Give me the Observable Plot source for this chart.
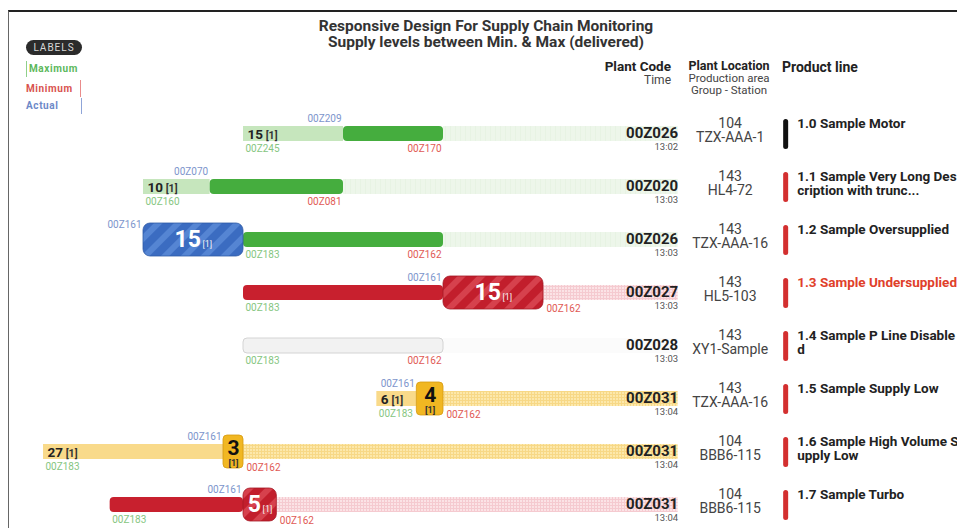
<!DOCTYPE html>
<html><head><meta charset="utf-8">
<script src="https://cdn.jsdelivr.net/npm/d3@7"></script>
<script src="https://cdn.jsdelivr.net/npm/@observablehq/plot@0.6"></script>
<style>
body{margin:0;background:#fff;font-family:Roboto,sans-serif;}
#wrap{position:relative;width:957px;height:528px;overflow:hidden;background:#fff;}
.abs{position:absolute;line-height:1;white-space:nowrap;}
</style></head>
<body>
<svg width="0" height="0" style="position:absolute">
<defs>
 <pattern id="gridYellow" width="3" height="3" patternUnits="userSpaceOnUse">
   <rect width="3" height="3" fill="#fce8ab"/>
   <path d="M0 0.5H3M0.5 0V3" stroke="#f7d886" stroke-width="1"/>
 </pattern>
 <pattern id="gridPink" width="3" height="3" patternUnits="userSpaceOnUse">
   <rect width="3" height="3" fill="#fbe3e6"/>
   <path d="M0 0.5H3M0.5 0V3" stroke="#f5cad0" stroke-width="1"/>
 </pattern>
 <pattern id="gridGreen" width="5" height="5" patternUnits="userSpaceOnUse">
   <rect width="5" height="5" fill="#edf6ea"/>
   <path d="M0.5 0V5" stroke="#e7f3e3" stroke-width="1"/>
 </pattern>
 <pattern id="stripeBlue" width="14" height="14" patternUnits="userSpaceOnUse" patternTransform="rotate(45)">
   <rect width="14" height="14" fill="#3b6cc1"/>
   <rect width="6" height="14" fill="#5585d3"/>
 </pattern>
 <pattern id="stripeRed" width="14" height="14" patternUnits="userSpaceOnUse" patternTransform="rotate(45)">
   <rect width="14" height="14" fill="#c21e2c"/>
   <rect width="6" height="14" fill="#d6414d"/>
 </pattern>
</defs>
</svg>
<div id="wrap">
  <div class="abs" style="left:8px;top:10px;width:960px;height:530px;border-top:2px solid #222;border-left:1.5px solid #666;"></div>
  <div class="abs" style="left:0;width:972px;top:19px;text-align:center;font-size:15.5px;font-weight:bold;color:#333;">Responsive Design For Supply Chain Monitoring</div>
  <div class="abs" style="left:0;width:972px;top:35px;text-align:center;font-size:15.5px;font-weight:bold;color:#333;">Supply levels between Min. &amp; Max (delivered)</div>

  <div class="abs" style="left:26px;top:40px;width:56px;height:15px;background:#2b2b2b;border-radius:8px;color:#d8d8d8;font-size:10px;letter-spacing:1px;text-align:center;line-height:15px;">LABELS</div>
  <div class="abs" style="left:26px;top:61px;height:16px;border-left:1.5px solid #8fd08a;color:#5cb85c;font-size:10px;font-weight:bold;padding-left:2px;line-height:16px;letter-spacing:0.6px;">Maximum</div>
  <div class="abs" style="left:26px;top:80px;width:54px;height:17px;border-right:1.5px solid #e98b8b;color:#d9534f;font-size:10px;font-weight:bold;line-height:17px;letter-spacing:0.6px;">Minimum</div>
  <div class="abs" style="left:26px;top:98px;width:55px;height:16px;border-right:1.5px solid #8fa5d8;color:#6d89c8;font-size:10px;font-weight:bold;line-height:16px;letter-spacing:0.6px;">Actual</div>

  <div class="abs" style="right:286px;top:60px;font-size:13.5px;font-weight:bold;color:#222;text-align:right;">Plant Code</div>
  <div class="abs" style="right:286px;top:74px;font-size:12px;color:#444;text-align:right;">Time</div>
  <div class="abs" style="left:679px;width:100px;top:60px;font-size:12.5px;font-weight:bold;color:#222;text-align:center;">Plant Location</div>
  <div class="abs" style="left:679px;width:100px;top:72.5px;font-size:11.5px;color:#444;text-align:center;">Production area</div>
  <div class="abs" style="left:679px;width:100px;top:84.5px;font-size:11.5px;color:#444;text-align:center;">Group - Station</div>
  <div class="abs" style="left:782px;top:60px;font-size:14px;font-weight:bold;color:#222;">Product line</div>

  <div id="chart" style="position:absolute;left:0;top:100px;"></div>
</div>
<script>
// ---- data ----
const rows = ["1.0","1.1","1.2","1.3","1.4","1.5","1.6","1.7"];
const productLines = [
  "1.0 Sample Motor",
  "1.1 Sample Very Long Des\ncription with trunc...",
  "1.2 Sample Oversupplied",
  "1.3 Sample Undersupplied",
  "1.4 Sample P Line Disable\nd",
  "1.5 Sample Supply Low",
  "1.6 Sample High Volume S\nupply Low",
  "1.7 Sample Turbo"
];
const plantCodes = ["00Z026","00Z020","00Z026","00Z027","00Z028","00Z031","00Z031","00Z031"];
const times = ["13:02","13:03","13:03","13:03","13:03","13:04","13:04","13:04"];
const areas = ["104","143","143","143","143","143","104","104"];
const stations = ["TZX-AAA-1","HL4-72","TZX-AAA-16","HL5-103","XY1-Sample","TZX-AAA-16","BBB6-115","BBB6-115"];
const statuses = ["ok","ok","over","under","disabled","low","low","under"];
const maxPos = [0,-15,0,0,0,20,-30,-20];
const actualPos = [15,-5,-15,30,null,26,-3,0];
const minPos = [30,15,30,45,30,30,0,5];
const maxLabels = ["00Z245","00Z160","00Z183","00Z183","00Z183","00Z183","00Z183","00Z183"];
const actualLabels = ["00Z209","00Z070","00Z161","00Z161",null,"00Z161","00Z161","00Z161"];
const minLabels = ["00Z170","00Z081","00Z162","00Z162","00Z162","00Z162","00Z162","00Z162"];
const deliveredCounts = [15,10,null,null,null,6,27,null];
const gapCounts = [null,null,15,15,null,4,3,5];
const batches = [1,1,1,1,null,1,1,1];
const END = 65.2;

// ---- layout helpers ----
const XMIN = -36.45, XMAX = 107.1, W = 957;
const PXU = W / (XMAX - XMIN);
const px = v => v / PXU;

const data = rows.map((r, i) => ({
  r, i, status: statuses[i], max: maxPos[i], actual: actualPos[i], min: minPos[i],
  maxLabel: maxLabels[i], actualLabel: actualLabels[i], minLabel: minLabels[i],
  delivered: deliveredCounts[i], gap: gapCounts[i], batch: batches[i],
  code: plantCodes[i], time: times[i], loc: areas[i] + "\n" + stations[i], product: productLines[i]
}));

const fills = {
  greenLight: "#c6e6bd", greenSolid: "#45ad3e", greenRest: "url(#gridGreen)",
  redSolid: "#c8202e", pinkRest: "url(#gridPink)",
  graySolid: "#f2f2f2", grayRest: "#fbfbfb",
  yellowLight: "#f9da8a", yellowRest: "url(#gridYellow)"
};
const flat = [], solid = [], blocks = [];
for (const d of data) {
  const {r, status: s, max, actual, min, gap, batch} = d;
  if (s === "ok") {
    flat.push({r, x1: max, x2: actual, k: "greenLight"}, {r, x1: min, x2: END, k: "greenRest"});
    solid.push({r, x1: actual, x2: min, k: "greenSolid"});
  } else if (s === "over") {
    flat.push({r, x1: min, x2: END, k: "greenRest"});
    solid.push({r, x1: max, x2: min, k: "greenSolid"});
    blocks.push({r, x1: actual, x2: max, k: "blue", gap, batch});
  } else if (s === "under") {
    flat.push({r, x1: min, x2: END, k: "pinkRest"});
    solid.push({r, x1: max, x2: actual, k: "redSolid"});
    blocks.push({r, x1: actual, x2: min, k: "red", gap, batch});
  } else if (s === "disabled") {
    flat.push({r, x1: min, x2: END, k: "grayRest"});
    solid.push({r, x1: max, x2: min, k: "graySolid"});
  } else if (s === "low") {
    flat.push({r, x1: max, x2: actual, k: "yellowLight"}, {r, x1: min, x2: END, k: "yellowRest"});
    blocks.push({r, x1: actual, x2: min, k: "gold", gap, batch});
  }
}
blocks.forEach(b => b.mid = (b.x1 + b.x2) / 2);
const bigBlocks = blocks.filter(b => b.k !== "gold");
const goldBlocks = blocks.filter(b => b.k === "gold");
const withActual = data.filter(d => d.actual != null);
const minRightSide = d => blocks.some(b => b.r === d.r && b.x2 === d.min);
const minLeft = data.filter(d => !minRightSide(d));
const minRight = data.filter(d => minRightSide(d));
const lights = data.filter(d => d.delivered != null);

const bigW = b => String(b.gap).length * 12.9 + 2 + 10;

const chart = Plot.plot({
  width: W, height: 428,
  marginTop: 0, marginBottom: 0, marginLeft: 0, marginRight: 0,
  x: {domain: [XMIN, XMAX], range: [0, W], axis: null},
  y: {type: "band", domain: rows, range: [3, 434.2], padding: 0, axis: null},
  color: {type: "identity"},
  style: {fontFamily: "Roboto, sans-serif", background: "transparent", overflow: "hidden"},
  marks: [
    Plot.barX(flat, {x1: "x1", x2: "x2", y: "r", fill: d => fills[d.k], insetTop: 19, insetBottom: 19}),
    Plot.barX(solid, {x1: "x1", x2: "x2", y: "r", fill: d => fills[d.k], stroke: d => d.k === "graySolid" ? "#d4d4d4" : "none", insetTop: 19, insetBottom: 19, rx: 4}),
    // marker ticks
    Plot.ruleX(withActual, {x: "actual", y: "r", stroke: "#8aa2d6", strokeWidth: 1.2, insetTop: 4, insetBottom: 35}),
    Plot.ruleX(data, {x: "max", y: "r", stroke: "#9ed49a", strokeWidth: 1.2, insetTop: 35, insetBottom: 5}),
    Plot.ruleX(minLeft, {x: "min", y: "r", stroke: "#e27a7a", strokeWidth: 1.2, insetTop: 35, insetBottom: 5}),
    Plot.ruleX(minRight, {x: "min", y: "r", stroke: "#e27a7a", strokeWidth: 1.2, insetTop: 37, insetBottom: 0}),
    // blocks
    Plot.barX(bigBlocks, {x1: "x1", x2: "x2", y: "r", fill: d => d.k === "blue" ? "url(#stripeBlue)" : "url(#stripeRed)", stroke: d => d.k === "blue" ? "#2f5aa6" : "#a51824", strokeWidth: 0.8, insetTop: 10, insetBottom: 10, rx: 7}),
    Plot.barX(goldBlocks, {x1: "x1", x2: "x2", y: "r", fill: "#f1b722", stroke: "#d59a10", strokeWidth: 0.8, insetTop: 10, insetBottom: 10, rx: 4}),
    // block labels
    Plot.text(bigBlocks, {x: b => b.mid - px(bigW(b) / 2), y: "r", text: b => String(b.gap), textAnchor: "start", fontSize: 23, fontWeight: "bold", fill: "#fff", dy: 0}),
    Plot.text(bigBlocks, {x: b => b.mid - px(bigW(b) / 2) + px(String(b.gap).length * 12.9 + 2), y: "r", text: b => "[" + b.batch + "]", textAnchor: "start", fontSize: 9, fill: "#f3f3f3", dy: 4}),
    Plot.text(goldBlocks, {x: "mid", y: "r", text: b => String(b.gap), textAnchor: "middle", fontSize: 21, fontWeight: "bold", fill: "#111", dy: -3.5}),
    Plot.text(goldBlocks, {x: "mid", y: "r", text: b => "[" + b.batch + "]", textAnchor: "middle", fontSize: 9, fontWeight: "bold", fill: "#333", dy: 11.5}),
    // delivered labels
    Plot.text(lights, {x: d => d.max + px(4), y: "r", text: d => String(d.delivered), textAnchor: "start", fontSize: 13.5, fontWeight: "bold", fill: "#222", dy: 0.5}),
    Plot.text(lights, {x: d => d.max + px(4 + String(d.delivered).length * 7.6 + 3), y: "r", text: d => "[" + d.batch + "]", textAnchor: "start", fontSize: 10.5, fontWeight: "bold", fill: "#333", dy: 1.5}),
    // marker labels
    Plot.text(withActual, {x: "actual", y: "r", text: "actualLabel", textAnchor: "end", dx: -2, dy: -15.2, fontSize: 10, fill: "#7d95cc"}),
    Plot.text(data, {x: "max", y: "r", text: "maxLabel", textAnchor: "start", dx: 2, dy: 14.8, fontSize: 10, fill: "#86c681"}),
    Plot.text(minLeft, {x: "min", y: "r", text: "minLabel", textAnchor: "end", dx: -2, dy: 14.8, fontSize: 10, fill: "#df5a55"}),
    Plot.text(minRight, {x: "min", y: "r", text: "minLabel", textAnchor: "start", dx: 3, dy: 15.8, fontSize: 10, fill: "#df5a55"}),
    // plant code / time
    Plot.text(data, {x: () => END, y: "r", text: "code", textAnchor: "end", fontSize: 15, fontWeight: "bold", fill: "#222", dy: -0.5}),
    Plot.text(data, {x: () => END, y: "r", text: "time", textAnchor: "end", fontSize: 9.5, fill: "#555", dy: 13}),
    // location
    Plot.text(data, {x: () => END, y: "r", text: "loc", textAnchor: "middle", lineAnchor: "top", lineHeight: 1, dx: 52, dy: -16, fontSize: 14, fill: "#444"}),
    // product line marker bar
    Plot.barX(data, {x1: () => END + px(105.5), x2: () => END + px(110.5), y: "r", fill: d => d.i === 0 ? "#111" : "#d32f2f", insetTop: 12, insetBottom: 11, rx: 2.5}),
    Plot.text(data, {x: () => END, y: "r", text: "product", textAnchor: "start", lineAnchor: "top", lineHeight: 1.02, dx: 119, dy: -15.5, fontSize: 13.5, fontWeight: "bold", fill: d => d.i === 3 ? "#e0402a" : "#222"})
  ]
});
document.getElementById("chart").appendChild(chart);
</script>
</body></html>
